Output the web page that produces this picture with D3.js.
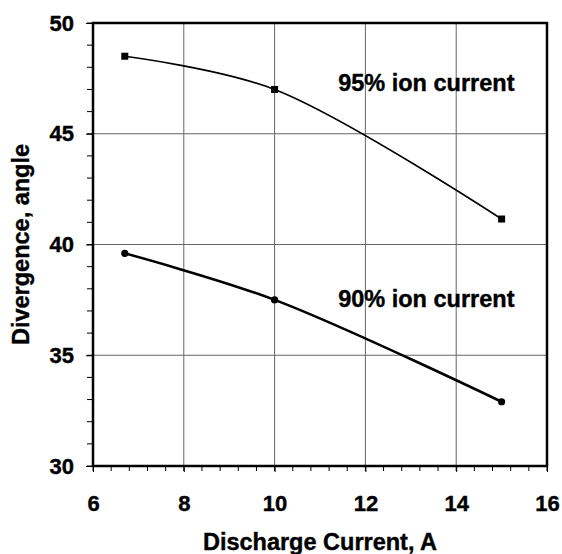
<!DOCTYPE html>
<html>
<head>
<meta charset="utf-8">
<script src="https://cdn.jsdelivr.net/npm/d3@7"></script>
<style>
  body { margin: 0; background: #fff; }
  text { font-family: "Liberation Sans", Arial, sans-serif; font-weight: bold; fill: #000; stroke: #000; stroke-width: 0.4px; }
</style>
</head>
<body>
<svg width="562" height="554"></svg>
<script>
// data
var current = [6.7, 10, 15];
var ion95 = [48.5, 47.0, 41.15];
var ion90 = [39.6, 37.5, 32.9];
var xTicks = [6, 8, 10, 12, 14, 16];
var yTicks = [30, 35, 40, 45, 50];
var labels = ['95% ion current', '90% ion current'];

var svg = d3.select('svg');
var margin = {t: 23, r: 15, b: 88, l: 93};
var w = 562 - margin.l - margin.r;
var h = 554 - margin.t - margin.b;

var g = svg.append('g').attr('transform', 'translate(' + margin.l + ',' + margin.t + ')');

var x = d3.scaleLinear().domain([6, 16]).range([0, w]);
var y = d3.scaleLinear().domain([30, 50]).range([h, 0]);

// grid
g.selectAll('.vgrid').data(xTicks.slice(1, -1)).enter().append('line')
  .attr('x1', d => x(d)).attr('x2', d => x(d))
  .attr('y1', 0).attr('y2', h)
  .attr('stroke', '#666').attr('stroke-width', 1);
g.selectAll('.hgrid').data(yTicks.slice(1, -1)).enter().append('line')
  .attr('y1', d => y(d)).attr('y2', d => y(d))
  .attr('x1', 0).attr('x2', w)
  .attr('stroke', '#666').attr('stroke-width', 1);

// minor ticks
var xMinor = d3.range(6, 16.001, 0.4);
g.selectAll('.xminor').data(xMinor).enter().append('line')
  .attr('x1', d => x(d)).attr('x2', d => x(d))
  .attr('y1', h).attr('y2', h + 5)
  .attr('stroke', '#000').attr('stroke-width', 1);
var yMinor = d3.range(30, 50.001, 1);
g.selectAll('.yminor').data(yMinor).enter().append('line')
  .attr('y1', d => y(d)).attr('y2', d => y(d))
  .attr('x1', -6).attr('x2', 0)
  .attr('stroke', '#000').attr('stroke-width', 1);

// axes
var xAxis = d3.axisBottom(x).tickValues(xTicks).tickSize(6).tickPadding(23);
var yAxis = d3.axisLeft(y).tickValues(yTicks).tickSize(7).tickPadding(12);

var gx = g.append('g').attr('transform', 'translate(0,' + h + ')').call(xAxis);
var gy = g.append('g').call(yAxis);
[gx, gy].forEach(function(a) {
  a.select('.domain').remove();
  a.selectAll('text').style('font-size', '22px').attr('fill', '#000');
  a.selectAll('line').attr('stroke', '#000');
});

// frame
g.append('rect').attr('width', w).attr('height', h)
  .attr('fill', 'none').attr('stroke', '#000').attr('stroke-width', 2.5);

// lines
var line = d3.line()
  .x((d, i) => x(current[i]))
  .y(d => y(d))
  .curve(d3.curveCatmullRom.alpha(0.5));

g.append('path').attr('d', line(ion95))
  .attr('fill', 'none').attr('stroke', '#000').attr('stroke-width', 1.6);
g.append('path').attr('d', line(ion90))
  .attr('fill', 'none').attr('stroke', '#000').attr('stroke-width', 2.6);

// markers
g.selectAll('.m95').data(ion95).enter().append('rect')
  .attr('x', (d, i) => x(current[i]) - 3.5)
  .attr('y', d => y(d) - 3.5)
  .attr('width', 7).attr('height', 7).attr('fill', '#000');
g.selectAll('.m90').data(ion90).enter().append('circle')
  .attr('cx', (d, i) => x(current[i]))
  .attr('cy', d => y(d))
  .attr('r', 3.6).attr('fill', '#000');

// labels
g.append('text').attr('x', x(11.4)).attr('y', y(46.94))
  .style('font-size', '23.5px').text(labels[0]);
g.append('text').attr('x', x(11.4)).attr('y', y(37.18))
  .style('font-size', '23.5px').text(labels[1]);

// axis titles
svg.append('text')
  .attr('x', margin.l + w / 2).attr('y', 550)
  .attr('text-anchor', 'middle')
  .style('font-size', '23.5px')
  .text('Discharge Current, A');

svg.append('text')
  .attr('transform', 'translate(29,' + (margin.t + h / 2) + ') rotate(-90)')
  .attr('text-anchor', 'middle')
  .style('font-size', '23.5px')
  .text('Divergence, angle');
</script>
</body>
</html>
